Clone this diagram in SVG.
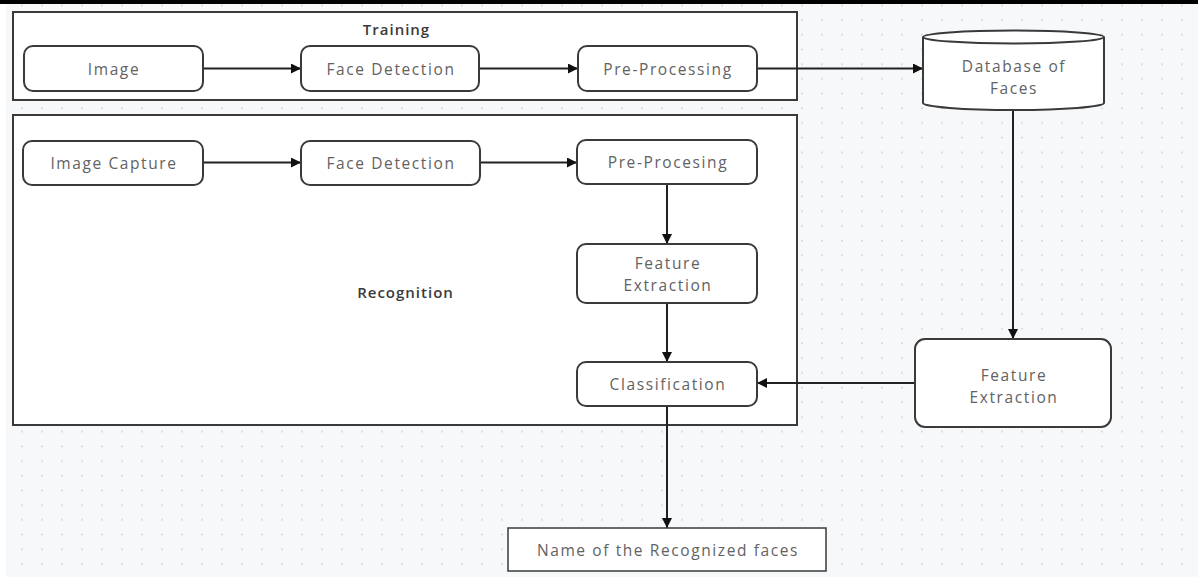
<svg xmlns="http://www.w3.org/2000/svg" width="1198" height="577" viewBox="0 0 1198 577">
<style>
.frame{fill:#fff;stroke:#3a3a3a;stroke-width:2}
.node{fill:#fff;stroke:#3a3a3a;stroke-width:2}
.t{font-family:"Open Sans","Noto Sans",sans-serif;font-size:15.5px;letter-spacing:1.6px;fill:#626262;text-anchor:middle;dominant-baseline:central}
.title{font-family:"Open Sans","Noto Sans",sans-serif;font-size:15px;letter-spacing:1px;font-weight:600;fill:#3a3a3a;text-anchor:middle;dominant-baseline:central}
.c{fill:none;stroke:#222;stroke-width:2;marker-end:url(#ah)}
</style>
<defs>
<pattern id="dots" x="12" y="-2" width="20" height="14.7" patternUnits="userSpaceOnUse">
<circle cx="10" cy="7.35" r="1" fill="#d2d4d8"/>
</pattern>
<marker id="ah" viewBox="0 0 10 10" refX="10" refY="5" markerWidth="10" markerHeight="10" markerUnits="userSpaceOnUse" orient="auto">
<path d="M0,0 L10,5 L0,10 z" fill="#111"/>
</marker>
</defs>
<rect width="1198" height="577" fill="#fff"/>
<rect x="6" y="4" width="1192" height="573" fill="#f7f8fa"/>
<rect x="6" y="4" width="1192" height="573" fill="url(#dots)"/>
<rect x="0" y="0" width="1198" height="4" fill="#000"/>

<g id="training-frame">
<rect class="frame" x="13" y="12" width="784" height="88"/>
<text class="title" x="396.5" y="29">Training</text>
</g>
<g id="recognition-frame">
<rect class="frame" x="13" y="115" width="784" height="310"/>
<text class="title" x="405.5" y="292">Recognition</text>
</g>

<g id="connectors">
<path class="c" d="M203,68.5 H301"/>
<path class="c" d="M479,68.5 H578"/>
<path class="c" d="M757,68.5 H923"/>
<path class="c" d="M203,162.5 H301"/>
<path class="c" d="M480,162.5 H577"/>
<path class="c" d="M667,184 V244"/>
<path class="c" d="M667,303 V362"/>
<path class="c" d="M1013,110 V339"/>
<path class="c" d="M915,383 H757"/>
<path class="c" d="M667,406 V528"/>
</g>

<g id="image">
<rect class="node" x="24" y="46" width="179" height="45" rx="9"/>
<text class="t" x="114" y="68.5">Image</text>
</g>
<g id="face-detection-training">
<rect class="node" x="301" y="46" width="178" height="45" rx="9"/>
<text class="t" x="391" y="68.5">Face Detection</text>
</g>
<g id="pre-processing">
<rect class="node" x="578" y="46" width="179" height="45" rx="9"/>
<text class="t" x="668" y="68.5">Pre-Processing</text>
</g>
<g id="database">
<path class="node" d="M923,37 V103 A90.5,7 0 0 0 1104,103 V37"/>
<ellipse class="node" cx="1013.5" cy="37" rx="90.5" ry="6.5"/>
<text class="t" x="1014" y="66">Database of</text>
<text class="t" x="1014" y="87.5">Faces</text>
</g>
<g id="image-capture">
<rect class="node" x="23" y="141" width="180" height="44" rx="9"/>
<text class="t" x="114" y="163">Image Capture</text>
</g>
<g id="face-detection-recognition">
<rect class="node" x="301" y="141" width="179" height="44" rx="9"/>
<text class="t" x="391" y="163">Face Detection</text>
</g>
<g id="pre-procesing">
<rect class="node" x="577" y="140" width="180" height="44" rx="9"/>
<text class="t" x="668" y="162">Pre-Procesing</text>
</g>
<g id="feature-extraction-recognition">
<rect class="node" x="577" y="244" width="180" height="59" rx="9"/>
<text class="t" x="668" y="263">Feature</text>
<text class="t" x="668" y="284.5">Extraction</text>
</g>
<g id="classification">
<rect class="node" x="577" y="362" width="180" height="44" rx="9"/>
<text class="t" x="668" y="384">Classification</text>
</g>
<g id="feature-extraction-training">
<rect class="node" x="915" y="339" width="196" height="88" rx="10"/>
<text class="t" x="1014" y="375">Feature</text>
<text class="t" x="1014" y="396.5">Extraction</text>
</g>
<g id="recognized-faces">
<rect class="node" x="508" y="528" width="318" height="43" style="stroke-width:1.5"/>
<text class="t" x="668" y="550">Name of the Recognized faces</text>
</g>
</svg>
